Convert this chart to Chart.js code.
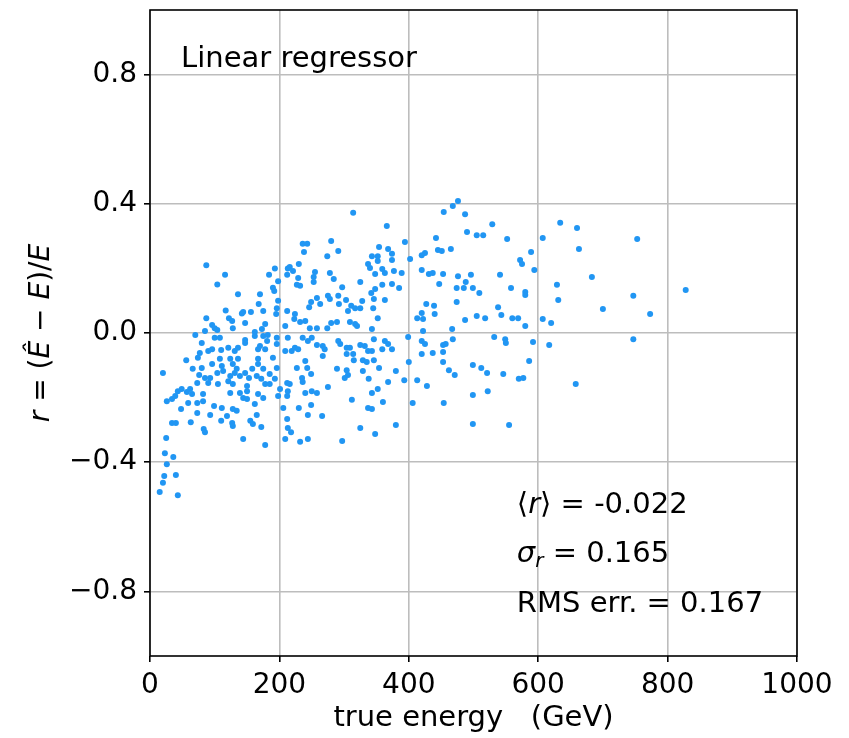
<!DOCTYPE html>
<html>
<head>
<meta charset="utf-8">
<script src="https://cdn.jsdelivr.net/npm/chart.js@4.4.0/dist/chart.umd.min.js"></script>
<style>
  html, body { margin: 0; padding: 0; background: #fff; }
</style>
</head>
<body>
<canvas id="myChart" width="849" height="738"></canvas>
<script>
    // true energy (GeV) and residual r
    const energy = [
        87, 116, 104, 136, 193, 184, 198, 190, 192, 212, 213, 170, 168, 198, 117, 142, 144, 156, 175, 196,
        195, 212, 87, 122, 127, 147, 96, 100, 128, 104, 85, 178, 173, 162, 209, 70, 100, 108, 147, 162,
        175, 182, 196,
        80, 96, 90, 110, 121, 131, 136, 147, 170, 178, 167, 181, 196, 209, 77, 74, 56, 20, 66, 80,
        96, 108, 111, 124, 128, 136, 134, 147, 158, 167, 167, 175, 185, 190, 196, 76, 85, 93, 104, 113,
        124, 131, 139, 153, 165, 172, 193, 212, 73, 90, 105, 121, 128, 150, 178, 185, 201, 62, 49, 43,
        57, 39, 34, 65, 82, 124, 139, 150, 144, 167, 175, 198, 150, 26, 59, 73, 82, 99, 111, 128,
        134, 162, 206, 48, 73, 93, 119, 165, 155, 34, 40, 63, 110, 127, 128, 159, 172, 212, 83, 85,
        25, 144, 209, 178, 23, 36, 26, 22, 40, 20, 15, 43,
        314, 366, 236, 243, 238, 280, 291, 274, 394, 354, 368, 343, 352, 374, 374, 352, 337, 340, 402, 230,
        216, 221, 255, 253, 253, 229, 227, 232, 278, 284, 325, 348, 359, 363, 377, 389, 297, 359, 374, 385,
        348, 342, 363, 346, 328, 258, 249, 246, 263, 275, 278, 291, 292, 303, 306, 311, 317, 325, 345, 224,
        223, 232, 240, 247, 258, 274, 280, 289, 309, 317, 320, 352, 343, 413, 213, 399,
        236, 244, 250, 224, 219, 229, 258, 267, 270, 267, 291, 294, 304, 309, 314, 315, 304, 325, 332, 337,
        343, 346, 363, 368, 374, 359, 329, 335, 346, 354, 329, 289, 304, 306, 301, 400, 420, 380, 393, 413,
        240, 243, 227, 249, 235, 236, 216, 213, 212, 240, 250, 258, 275, 338, 368, 352, 343, 312, 360, 406,
        230, 249, 244, 266, 337, 343, 213, 218, 325, 380, 348, 232, 244, 297,
        476, 468, 454, 487, 529, 490, 505, 515, 442, 552, 607, 634, 425, 420, 445, 451, 465, 589, 572, 575,
        594, 420, 431, 437, 453, 476, 496, 488, 541, 447, 474, 485, 499, 509, 558, 580, 580, 629, 474, 427,
        439, 440, 420, 422, 538, 543, 505, 518, 560, 569, 487, 580, 607, 620, 631, 467, 422,
        420, 425, 453, 457, 468, 532, 549, 550, 592, 617, 437, 453, 453, 499, 512, 521, 546, 586, 570, 577,
        462, 471, 428, 499, 522, 454, 499, 555,
        660, 753, 663, 683, 747, 700, 773, 828, 747, 658
    ];
    const resid = [
        0.21, 0.18, 0.15, 0.12, 0.20, 0.18, 0.16, 0.14, 0.13, 0.18, 0.20, 0.12, 0.09, 0.10, 0.07, 0.06, 0.065, 0.065, 0.068, 0.077,
        0.059, 0.068, 0.046, 0.046, 0.037, 0.031, 0.025, 0.015, 0.015, 0.009, 0.006, 0.028, 0.012, 0.003, 0.022, -0.006, -0.015, -0.015, -0.022, -0.009,
        -0.009, -0.006, -0.015,
        -0.031, -0.05, -0.056, -0.053, -0.046, -0.056, -0.046, -0.031, -0.04, -0.05, -0.05, -0.025, -0.034, -0.056, -0.062, -0.077, -0.084, -0.124, -0.111, -0.108,
        -0.096, -0.08, -0.102, -0.08, -0.096, -0.08, -0.111, -0.124, -0.111, -0.08, -0.096, -0.111, -0.127, -0.077, -0.108, -0.13, -0.139, -0.139, -0.124, -0.118,
        -0.133, -0.124, -0.133, -0.139, -0.133, -0.142, -0.142, -0.155, -0.155, -0.155, -0.158, -0.149, -0.158, -0.164, -0.158, -0.158, -0.173, -0.173, -0.173, -0.18,
        -0.183, -0.195, -0.204, -0.189, -0.189, -0.186, -0.186, -0.18, -0.201, -0.189, -0.201, -0.195, -0.204, -0.211, -0.217, -0.217, -0.211, -0.226, -0.232, -0.235,
        -0.241, -0.22, -0.232, -0.235, -0.248, -0.254, -0.257, -0.254, -0.272, -0.279, -0.279, -0.276, -0.272, -0.279, -0.288, -0.282, -0.291, -0.266, -0.297, -0.307,
        -0.325, -0.328, -0.328, -0.347, -0.372, -0.384, -0.406, -0.443, -0.44, -0.464, -0.492, -0.502,
        0.372, 0.331, 0.276, 0.276, 0.251, 0.285, 0.254, 0.238, 0.282, 0.266, 0.26, 0.238, 0.238, 0.245, 0.226, 0.223, 0.214, 0.201, 0.229, 0.214,
        0.204, 0.192, 0.189, 0.173, 0.158, 0.17, 0.149, 0.146, 0.186, 0.167, 0.158, 0.183, 0.198, 0.186, 0.192, 0.186, 0.142, 0.149, 0.152, 0.139,
        0.136, 0.124, 0.102, 0.105, 0.099, 0.108, 0.096, 0.08, 0.09, 0.115, 0.105, 0.115, 0.09, 0.102, 0.068, 0.084, 0.077, 0.077, 0.077, 0.059,
        0.043, 0.034, 0.037, 0.015, 0.015, 0.015, 0.031, 0.034, 0.034, 0.028, 0.022, 0.046, 0.012, 0.046, -0.015, -0.012,
        -0.015, -0.025, -0.015, -0.046, -0.056, -0.05, -0.037, -0.04, -0.05, -0.071, -0.025, -0.034, -0.046, -0.046, -0.065, -0.084, -0.065, -0.037, -0.04, -0.056,
        -0.056, -0.019, -0.025, -0.034, -0.05, -0.05, -0.084, -0.09, -0.084, -0.108, -0.118, -0.111, -0.115, -0.13, -0.139, -0.09, -0.065, -0.118, -0.146, -0.146,
        -0.087, -0.108, -0.108, -0.127, -0.139, -0.152, -0.158, -0.18, -0.195, -0.186, -0.18, -0.186, -0.167, -0.142, -0.152, -0.173, -0.186, -0.207, -0.214, -0.217,
        -0.232, -0.223, -0.254, -0.257, -0.232, -0.235, -0.294, -0.307, -0.294, -0.285, -0.313, -0.337, -0.328, -0.334,
        0.409, 0.393, 0.375, 0.368, 0.337, 0.313, 0.303, 0.303, 0.294, 0.291, 0.294, 0.341, 0.248, 0.241, 0.257, 0.254, 0.26, 0.251, 0.226, 0.214,
        0.195, 0.195, 0.183, 0.186, 0.183, 0.176, 0.18, 0.158, 0.18, 0.152, 0.139, 0.139, 0.139, 0.124, 0.139, 0.127, 0.118, 0.149, 0.096, 0.09,
        0.084, 0.059, 0.062, 0.043, 0.08, 0.056, 0.053, 0.046, 0.046, 0.046, 0.04, 0.022, 0.043, 0.031, 0.102, 0.012, 0.006,
        -0.025, -0.034, -0.037, -0.034, -0.019, -0.012, -0.019, -0.031, -0.028, -0.037, -0.062, -0.059, -0.09, -0.099, -0.108, -0.124, -0.127, -0.087, -0.142, -0.139,
        -0.115, -0.13, -0.164, -0.192, -0.18, -0.217, -0.282, -0.285,
        0.325, 0.291, 0.26, 0.173, 0.115, 0.074, 0.059, 0.133, -0.019, -0.158
    ];
    const xTicks = [0, 200, 400, 600, 800, 1000];
    const yTicks = [-0.8, -0.4, 0.0, 0.4, 0.8];
    const title = 'Linear regressor';
    const meanR = '-0.022';
    const sigmaR = '0.165';
    const rmsErr = '0.167';

    const points = energy.map((e, i) => ({ x: e, y: resid[i] }));

    const FONT = '"DejaVu Sans"';

    function drawRuns(ctx, runs, x, y) {
        for (const r of runs) {
            ctx.font = r.f;
            ctx.fillText(r.t, x, y + (r.dy || 0));
            x += ctx.measureText(r.t).width;
        }
    }
    function runsWidth(ctx, runs) {
        let w = 0;
        for (const r of runs) { ctx.font = r.f; w += ctx.measureText(r.t).width; }
        return w;
    }

    const frame = {
        id: 'frame',
        afterDraw(chart) {
            const ctx = chart.ctx, a = chart.chartArea;
            const w = a.right - a.left, h = a.bottom - a.top;
            const n = '29px ' + FONT, it = 'italic 29px ' + FONT, sub = 'italic 20px ' + FONT;
            ctx.save();
            ctx.strokeStyle = '#000';
            ctx.lineWidth = 1.6;
            ctx.strokeRect(a.left, a.top, w, h);

            ctx.fillStyle = '#000';
            ctx.textAlign = 'left';
            ctx.textBaseline = 'alphabetic';
            ctx.font = n;
            ctx.fillText(title, a.left + 0.048 * w, a.top + 0.088 * h);

            const tx = a.left + 0.567 * w;
            drawRuns(ctx, [{ t: '\u27e8', f: n }, { t: 'r', f: it }, { t: '\u27e9 = ' + meanR, f: n }], tx, a.top + 0.779 * h);
            drawRuns(ctx, [{ t: '\u03c3', f: it }, { t: 'r', f: sub, dy: 5 }, { t: ' = ' + sigmaR, f: n }], tx, a.top + 0.854 * h);
            ctx.font = n;
            ctx.fillText('RMS err. = ' + rmsErr, tx, a.top + 0.932 * h);

            // y axis label with italic symbols
            const ln = '28px ' + FONT, li = 'italic 28px ' + FONT;
            const lab = [
                { t: 'r', f: li }, { t: ' = (', f: ln }, { t: '\u00ca', f: li }, { t: ' \u2212 ', f: ln },
                { t: 'E', f: li }, { t: ')/', f: ln }, { t: 'E', f: li }
            ];
            ctx.translate(49, (a.top + a.bottom) / 2);
            ctx.rotate(-Math.PI / 2);
            drawRuns(ctx, lab, -runsWidth(ctx, lab) / 2, 0);
            ctx.restore();
        }
    };

    new Chart('myChart', {
        type: 'scatter',
        data: {
            datasets: [{
                data: points,
                backgroundColor: '#2196f3',
                borderWidth: 0,
                pointRadius: 3,
                pointHoverRadius: 3
            }]
        },
        options: {
            responsive: false,
            animation: false,
            layout: { padding: { left: 0, right: 52, top: 10, bottom: 0 } },
            plugins: { legend: { display: false }, tooltip: { enabled: false } },
            scales: {
                x: {
                    type: 'linear',
                    min: 0,
                    max: 1000,
                    afterBuildTicks: s => { s.ticks = xTicks.map(v => ({ value: v })); },
                    afterFit: s => { s.height = 82; s.paddingLeft = 0; s.paddingRight = 0; },
                    ticks: {
                        font: { family: 'DejaVu Sans', size: 28 },
                        color: '#000',
                        padding: 7,
                        maxRotation: 0,
                        callback: v => String(v)
                    },
                    grid: { color: '#bdbdbd', lineWidth: 1.6, tickColor: '#000', tickLength: 6, tickWidth: 1.6 },
                    border: { display: false },
                    title: {
                        display: true,
                        text: 'true energy   (GeV)',
                        font: { family: 'DejaVu Sans', size: 29 },
                        color: '#000',
                        padding: { top: 0, bottom: 2 }
                    }
                },
                y: {
                    min: -1,
                    max: 1,
                    afterBuildTicks: s => { s.ticks = yTicks.map(v => ({ value: v })); },
                    afterFit: s => { s.width = 150; s.paddingTop = 0; s.paddingBottom = 0; },
                    ticks: {
                        font: { family: 'DejaVu Sans', size: 28 },
                        color: '#000',
                        padding: 7,
                        callback: v => (v < 0 ? '\u2212' + Math.abs(v).toFixed(1) : v.toFixed(1))
                    },
                    grid: { color: '#bdbdbd', lineWidth: 1.6, tickColor: '#000', tickLength: 6, tickWidth: 1.6 },
                    border: { display: false }
                }
            }
        },
        plugins: [frame]
    });
</script>
</body>
</html>
